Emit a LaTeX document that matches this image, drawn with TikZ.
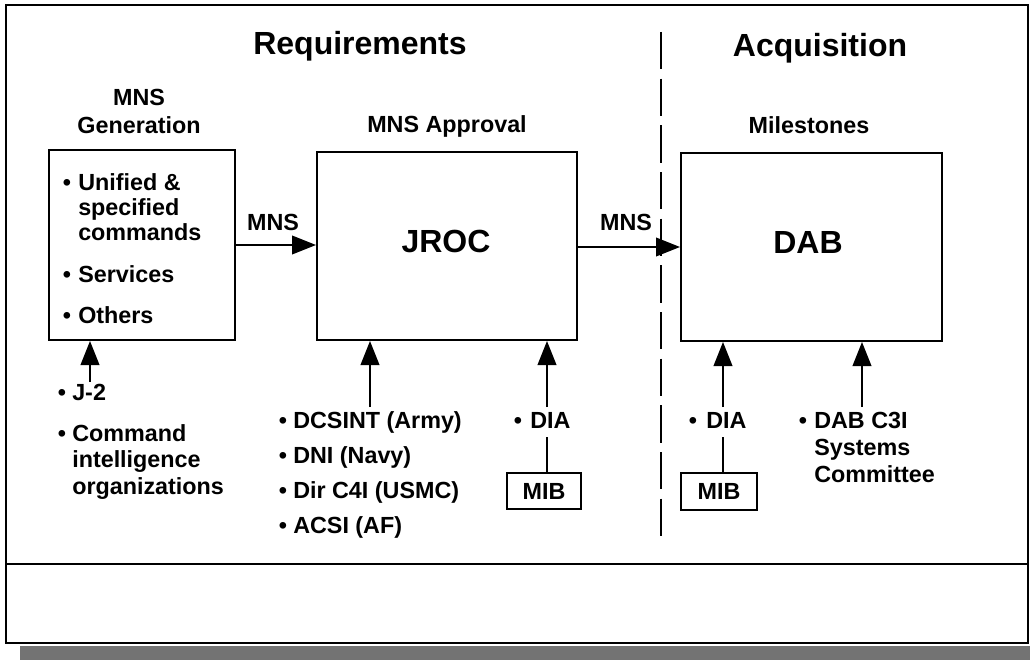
\documentclass[tikz,border=0pt]{standalone}
\usepackage{fontspec}
\setmainfont{Liberation Sans}
\usetikzlibrary{arrows.meta}
\begin{document}
\begin{tikzpicture}[x=0.75pt,y=-0.75pt,
 frame/.style={line width=1.7pt},
 box/.style={draw,line width=1.5pt,inner sep=0pt},
 big/.style={font=\fontsize{24}{28}\selectfont\bfseries,inner sep=0pt},
 txt/.style={font=\fontsize{17.5}{20}\selectfont\bfseries,inner sep=0pt},
 lst/.style={txt,anchor=base west},
 bul/.style={txt,anchor=base},
 arr/.style={line width=1.4pt,-{Triangle[length=18pt,width=14pt]}},
 conn/.style={line width=1.4pt},
 divider/.style={line width=1.4pt,dash pattern=on 28pt off 7pt}]
\useasboundingbox (0,0) rectangle (1030,660);
% frame and shadow
\fill[black!55] (20,646) rectangle (1030,660);
\draw[frame] (6,5) rectangle (1028,643);
\draw[frame] (6,564) -- (1028,564);
% divider
\draw[divider] (661,32) -- (661,543);
% headings
\node[big,anchor=base] (req) at (360,55) {Requirements};
\node[big,anchor=base] (acq) at (820,57) {Acquisition};
\node[txt,anchor=base,font=\fontsize{17.5}{21}\selectfont\bfseries] (genh) at (139,105) {\begin{tabular}[t]{@{}c@{}}MNS\\Generation\end{tabular}};
\node[txt,anchor=base] (apph) at (447,132) {MNS Approval};
\node[txt,anchor=base] (milh) at (809,133) {Milestones};
% main boxes
\node[box,minimum width=139.5pt,minimum height=142.5pt] (gen) at (142,245) {};
\node[box,minimum width=195pt,minimum height=141pt] (jroc) at (447,246) {};
\node[box,minimum width=195.75pt,minimum height=141pt] (dab) at (811.5,247) {};
\node[big,anchor=base] (jrocl) at (446,252) {JROC};
\node[big,anchor=base] (dabl) at (808,253) {DAB};
% generation contents
\node[bul] (gb1) at (67,190) {•};
\node[lst,font=\fontsize{17.5}{18.75}\selectfont\bfseries] (gt1) at (78,190) {\begin{tabular}[t]{@{}l@{}}Unified \&\\specified\\commands\end{tabular}};
\node[bul] (gb2) at (67,282) {•};
\node[lst] (gt2) at (78,282) {Services};
\node[bul] (gb3) at (67,323) {•};
\node[lst] (gt3) at (78,323) {Others};
% MNS arrows
\draw[arr] (gen.east) -- (gen.east -| jroc.west);
\node[txt,anchor=base] (mns1) at (273,230) {MNS};
\draw[arr] (jroc.east |- 0,247) -- (dab.west |- 0,247);
\node[txt,anchor=base] (mns2) at (626,230) {MNS};
% J-2 and command intelligence
\node[bul] (jb1) at (62,400) {•};
\node[lst] (j2) at (72,400) {J-2};
\coordinate (j2top) at (90,382);
\draw[arr] (j2top) -- (j2top |- gen.south);
\node[bul] (jb2) at (62,441) {•};
\node[lst] (cio) at (72,441) {\begin{tabular}[t]{@{}l@{}}Command\\intelligence\\organizations\end{tabular}};
% JROC inputs
\node[bul] (sb1) at (283,428) {•};
\node[lst] (s1) at (293,428) {DCSINT (Army)};
\node[bul] (sb2) at (283,463) {•};
\node[lst] (s2) at (293,463) {DNI (Navy)};
\node[bul] (sb3) at (283,498) {•};
\node[lst] (s3) at (293,498) {Dir C4I (USMC)};
\node[bul] (sb4) at (283,533) {•};
\node[lst] (s4) at (293,533) {ACSI (AF)};
\coordinate (svtop) at (370,407);
\draw[arr] (svtop) -- (svtop |- jroc.south);
% DIA / MIB for JROC
\node[bul] (db1) at (518,428) {•};
\node[lst] (dia1) at (530,428) {DIA};
\coordinate (dia1top) at (547,407);
\draw[arr] (dia1top) -- (dia1top |- jroc.south);
\node[box,minimum width=55.5pt,minimum height=27pt,txt] (mib1) at (544,491) {MIB};
\coordinate (dia1bot) at (547,437);
\draw[conn] (dia1bot) -- (dia1bot |- mib1.north);
% DIA / MIB for DAB
\node[bul] (db2) at (693,428) {•};
\node[lst] (dia2) at (706,428) {DIA};
\coordinate (dia2top) at (723,407);
\draw[arr] (dia2top) -- (dia2top |- dab.south);
\node[box,minimum width=57pt,minimum height=27.75pt,txt] (mib2) at (719,491.5) {MIB};
\coordinate (dia2bot) at (723,437);
\draw[conn] (dia2bot) -- (dia2bot |- mib2.north);
% DAB C3I
\node[bul] (cb) at (803,428) {•};
\node[lst,font=\fontsize{17.5}{20.5}\selectfont\bfseries] (c3i) at (814,428) {\begin{tabular}[t]{@{}l@{}}DAB C3I\\Systems\\Committee\end{tabular}};
\coordinate (c3itop) at (862,407);
\draw[arr] (c3itop) -- (c3itop |- dab.south);
\end{tikzpicture}
\end{document}
